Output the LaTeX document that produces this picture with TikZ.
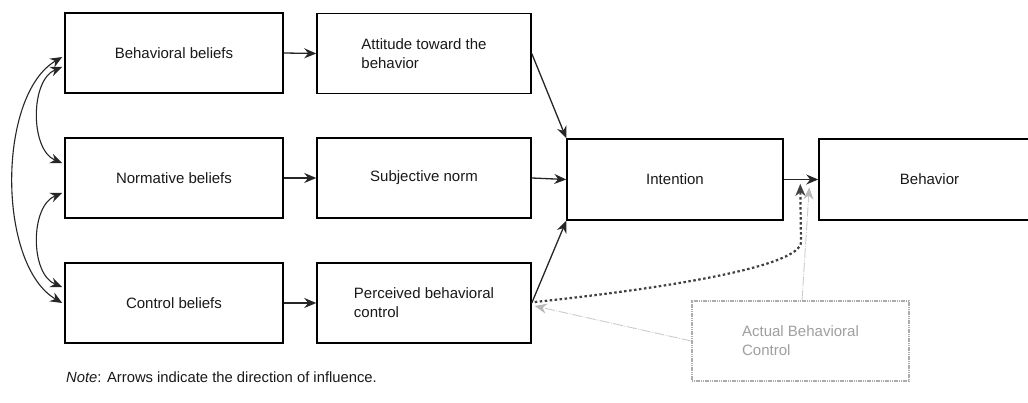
\documentclass[tikz,border=0pt]{standalone}
\usepackage{fontspec}
\setmainfont{Liberation Sans}
\usetikzlibrary{arrows.meta}
\tikzset{
  box/.style={draw=black, line width=1.5pt, rectangle, minimum height=80pt, inner sep=2pt,
    font=\fontsize{15}{19}\selectfont, text=black!90, align=left},
  abcbox/.style={draw=gray!65, line width=1.3pt, dash pattern=on 1.2pt off 0.6pt, rectangle,
    minimum width=217pt, minimum height=80pt, font=\fontsize{15}{19}\selectfont, text=gray!75, align=left},
  tip/.style={Stealth[length=12pt,width=10pt,inset=4pt]},
  arr/.style={draw=black!85, line width=1.3pt, -{Stealth[length=12pt,width=10pt,inset=4pt]}},
  darr/.style={draw=black!85, line width=1.1pt, {Stealth[length=12pt,width=10pt,inset=4pt]}-{Stealth[length=12pt,width=10pt,inset=4pt]}},
  dotarr/.style={draw=black!75, line width=2.2pt, dash pattern=on 2.5pt off 2.5pt,
    -{Stealth[length=12pt,width=10pt,inset=4pt,line width=0.3pt,sep=0pt]}},
  grayarr/.style={draw=gray!40, line width=0.9pt, dash pattern=on 10pt off 1.5pt on 1pt off 1.5pt,
    -{Stealth[length=12pt,width=10pt,inset=4pt,gray!55]}},
  notetext/.style={font=\fontsize{14.8}{18}\selectfont, text=black!90, inner sep=0pt, anchor=west}
}
\begin{document}
\begin{tikzpicture}[x=1pt,y=-1pt]
\clip (0,0) rectangle (1028,403);
\fill[white] (0,0) rectangle (1028,403);

% column 1
\node[box, minimum width=218pt] (bb) at (174,53) {Behavioral beliefs};
\node[box, minimum width=218pt] (nb) at (174,178) {Normative beliefs};
\node[box, minimum width=218pt] (cb) at (174,303) {Control beliefs};

% column 2
\node[box, minimum width=214pt] (att) at (424,53.5) {Attitude toward the\\behavior};
\node[box, minimum width=214pt] (sn) at (424,178) {Subjective norm};
\node[box, minimum width=214pt] (pbc) at (424,303) {Perceived behavioral\\control};

% intention and behavior
\node[box, minimum width=216pt, minimum height=81pt] (int) at (675,179.5) {Intention};
\node[box, minimum width=221pt, minimum height=81pt] (beh) at (929.5,179.5) {Behavior};

% actual behavioral control
\node[abcbox] (abc) at (800.5,341) {Actual Behavioral\\Control};

% note
\node[notetext] (note) at (66,377) {\textit{Note}: Arrows indicate the direction of influence.};

% horizontal arrows
\draw[arr] (bb.east) -- (att.west);
\draw[arr] (nb.east) -- (sn.west);
\draw[arr] (cb.east) -- (pbc.west);
\draw[arr] (att.east) -- (int.north west);
\draw[arr] (sn.east) -- (int.west);
\draw[arr] (pbc.east) -- (int.south west);
\draw[arr] (int.east) -- (beh.west);

% correlation arcs
\draw[darr] ([xshift=-2pt,yshift=-14pt]bb.west) .. controls (30,80) and (30,150) .. ([xshift=-2pt,yshift=15pt]nb.west);
\draw[darr] ([xshift=-2pt,yshift=-15pt]nb.west) .. controls (30,206) and (30,274) .. ([xshift=-2pt,yshift=16pt]cb.west);
\draw[darr] ([xshift=-2pt,yshift=-4pt]bb.west) .. controls (-3,95) and (-3,265) .. ([xshift=-2pt,yshift=0pt]cb.west);

% dotted arrow from perceived behavioral control
\coordinate (dtip) at ([xshift=-18pt,yshift=-4.5pt]beh.west);
\draw[dotarr] ([xshift=3pt,yshift=1pt]pbc.east) .. controls (650,290) and (801,268) .. (801,242) -- (dtip);

% gray arrows from actual behavioral control
\coordinate (gtip) at ([xshift=-9pt,yshift=-8pt]beh.west);
\draw[grayarr] ([xshift=1.5pt]abc.north) -- (gtip);
\draw[grayarr] (abc.west) -- ([xshift=3pt,yshift=-3pt]pbc.east);
\end{tikzpicture}
\end{document}
